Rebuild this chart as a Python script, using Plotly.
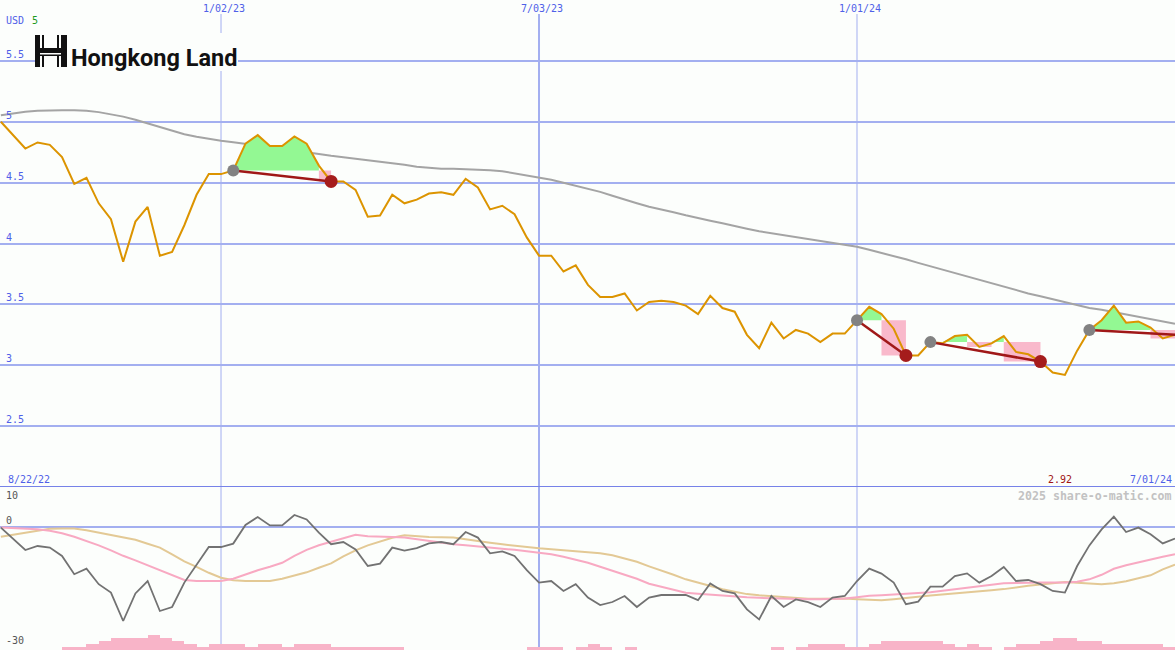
import plotly.graph_objects as go
import pandas as pd

W, H = 1175, 650
BG = "#fcfefc"

# ---------------- data ----------------
start_date = "2022-08-29"
n_weeks = 97
dates = list(pd.date_range(start_date, periods=n_weeks, freq="7D"))

price = [5.00, 4.89, 4.78, 4.83, 4.81, 4.71, 4.49, 4.54, 4.33, 4.20,
         3.85, 4.18, 4.30, 3.90, 3.93, 4.15, 4.40, 4.57, 4.57, 4.60,
         4.82, 4.89, 4.80, 4.80, 4.88, 4.82, 4.64, 4.51, 4.51, 4.44,
         4.22, 4.23, 4.40, 4.33, 4.36, 4.41, 4.42, 4.40, 4.53, 4.46,
         4.28, 4.31, 4.24, 4.05, 3.90, 3.90, 3.77, 3.82, 3.66, 3.56,
         3.56, 3.59, 3.45, 3.52, 3.53, 3.52, 3.49, 3.42, 3.57, 3.47,
         3.44, 3.25, 3.14, 3.35, 3.22, 3.29, 3.26, 3.19, 3.26, 3.26,
         3.37, 3.48, 3.42, 3.30, 3.08, 3.08, 3.19, 3.18, 3.24, 3.25,
         3.15, 3.18, 3.24, 3.11, 3.09, 3.03, 2.94, 2.92, 3.12, 3.29,
         3.37, 3.49, 3.35, 3.36, 3.31, 3.22, 3.25]

moving_avg = [5.054, 5.071, 5.083, 5.091, 5.095, 5.095, 5.095, 5.091, 5.079, 5.062,
              5.042, 5.017, 4.988, 4.960, 4.927, 4.898, 4.877, 4.857, 4.843, 4.832,
              4.820, 4.808, 4.795, 4.783, 4.766, 4.750, 4.734, 4.721, 4.709, 4.697,
              4.684, 4.672, 4.664, 4.647, 4.631, 4.622, 4.614, 4.613, 4.610, 4.610,
              4.602, 4.594, 4.577, 4.561, 4.547, 4.524, 4.499, 4.474, 4.450, 4.424,
              4.392, 4.359, 4.331, 4.302, 4.281, 4.257, 4.232, 4.207, 4.187, 4.166,
              4.141, 4.121, 4.100, 4.084, 4.067, 4.051, 4.035, 4.022, 4.006, 3.989,
              3.973, 3.948, 3.924, 3.895, 3.870, 3.841, 3.813, 3.784, 3.755, 3.726,
              3.697, 3.669, 3.644, 3.615, 3.590, 3.566, 3.541, 3.516, 3.492, 3.471,
              3.455, 3.437, 3.418, 3.397, 3.377, 3.360, 3.341]

osc_main = [-0.15, -2.9, -5.75, -4.75, -5.15, -7.25, -11.8, -10.4, -14.3, -16.4,
            -23.5, -16.6, -13.5, -21.0, -20.0, -13.9, -9.3, -5.0, -5.0, -4.15,
            0.5, 2.5, 0.4, 0.4, 3.0, 1.9, -1.4, -4.3, -3.75, -5.6,
            -9.75, -9.15, -5.15, -5.9, -5.3, -4.1, -3.75, -4.3, -1.25, -2.65,
            -6.6, -6.1, -7.25, -10.8, -13.9, -13.5, -16.0, -14.3, -17.65, -19.5,
            -18.75, -17.25, -20.0, -17.65, -17.0, -17.0, -17.0, -18.3, -14.1, -16.0,
            -16.6, -20.6, -23.1, -17.25, -20.0, -18.1, -18.8, -20.0, -17.65, -17.25,
            -13.5, -10.4, -11.65, -13.9, -19.3, -18.65, -14.9, -14.9, -12.25, -11.6,
            -13.9, -12.25, -10.0, -13.5, -13.25, -14.3, -16.0, -16.4, -9.75, -4.6,
            -0.6, 2.6, -1.25, -0.15, -1.8, -4.1, -2.9]

osc_pink = [-0.15, -0.33, -0.45, -0.58, -0.95, -1.58, -2.45, -3.45, -4.58, -5.83,
            -7.2, -8.33, -9.58, -10.7, -11.95, -13.25, -13.5, -13.5, -13.5, -12.95,
            -11.83, -10.83, -9.95, -8.95, -7.2, -5.7, -4.58, -3.7, -2.7, -1.95,
            -2.33, -2.5, -2.5, -2.65, -3.08, -3.58, -3.95, -4.33, -4.58, -4.83,
            -5.08, -5.33, -5.7, -6.08, -6.45, -6.83, -7.45, -8.2, -8.95, -9.95,
            -10.95, -11.83, -12.95, -14.2, -14.95, -15.83, -16.45, -16.7, -16.95, -17.2,
            -17.45, -17.58, -17.7, -17.83, -17.95, -18.08, -18.08, -18.08, -17.95, -17.9,
            -17.58, -17.2, -17.08, -16.88, -16.78, -16.58, -16.33, -15.95, -15.58, -15.15,
            -14.83, -14.33, -14.08, -14.0, -13.9, -13.9, -13.9, -13.9, -13.7, -13.08,
            -11.95, -10.45, -9.58, -8.83, -8.08, -7.45, -6.83]

osc_tan = [-2.45, -1.95, -1.33, -0.83, -0.45, -0.4, -0.4, -0.83, -1.4, -1.95,
           -2.58, -3.2, -4.2, -5.15, -6.83, -8.58, -9.95, -11.45, -12.7, -13.33,
           -13.5, -13.5, -13.5, -12.95, -12.2, -11.33, -10.2, -9.08, -7.33, -5.83,
           -4.58, -3.58, -2.7, -2.08, -2.33, -2.5, -2.58, -2.65, -3.08, -3.58,
           -3.95, -4.33, -4.7, -5.08, -5.33, -5.58, -5.83, -6.08, -6.33, -6.58,
           -7.08, -7.95, -8.7, -9.83, -10.83, -11.95, -13.08, -13.95, -14.83, -15.58,
           -16.2, -16.78, -17.08, -17.33, -17.58, -17.83, -17.95, -17.95, -17.9, -17.9,
           -18.08, -18.2, -18.33, -18.08, -17.7, -17.45, -17.13, -16.9, -16.65, -16.4,
           -16.15, -15.83, -15.53, -15.08, -14.7, -14.4, -14.08, -13.78, -13.95, -14.2,
           -14.33, -14.08, -13.58, -12.83, -12.08, -10.58, -9.4]

vol_level = [0, 0, 0, 0, 0, 1, 1, 2, 3, 4,
             4, 4, 5, 4, 3, 2, 1, 2, 2, 2,
             1, 2, 2, 1, 2, 2, 2, 1, 1, 1,
             1, 1, 1, 0, 0, 0, 0, 0, 0, 0,
             0, 0, 0, 1, 1, 1, 0, 1, 2, 1,
             0, 1, 0, 0, 0, 0, 0, 0, 0, 0,
             0, 0, 0, 1, 0, 1, 2, 2, 2, 1,
             1, 2, 3, 3, 3, 3, 3, 2, 1, 2,
             1, 0, 1, 2, 2, 3, 4, 4, 3, 3,
             2, 2, 2, 2, 2, 1, 1]

# signals (0-based week index)
signal_start = [19, 70, 76, 89]
signal_end = [27, 74, 85, 96]
signal_closed = [True, True, True, False]

grid_dates = ["2023-01-02", "2023-07-03", "2024-01-01"]
grid_labels = ["1/02/23", "7/03/23", "1/01/24"]
grid_widths = [1, 2, 1]
upper_ticks = [2.5, 3, 3.5, 4, 4.5, 5, 5.5]
upper_tick_labels = ["2.5", "3", "3.5", "4", "4.5", "5", "5.5"]
lower_ticks = [0]
range_start_label = "8/22/22"
range_end_label = "7/01/24"
currency = "USD"
currency_count = "5"

# ---------------- styles ----------------
BLUE_TXT = "#4f60e8"
GRID = "#a3aff0"
MONO = "DejaVu Sans Mono"
LOWER_FRAC = 163 / H


def px(x):
    return x / W


def py(y):
    return 1 - y / H


fig = go.Figure()

# grey long moving average
fig.add_trace(go.Scatter(x=dates, y=moving_avg, mode="lines",
                         line=dict(color="#a4a4a4", width=2), hoverinfo="skip"))

# green / pink signal fills
tol = 0.015
gx, gy, rx, ry = [], [], [], []
for s, e in zip(signal_start, signal_end):
    L = price[s]
    run = []
    for i in range(s, e + 1):
        if i < e:
            p0, p1 = price[i], price[i + 1]
            if p0 >= L - tol and p1 >= L - tol:
                gx += [dates[i], dates[i], dates[i + 1], dates[i + 1], dates[i], None]
                gy += [L, max(p0, L), max(p1, L), L, L, None]
            below = min(p0, p1) < L - tol
        else:
            below = False
        if below:
            run.append(i)
        elif run:
            a, b = run[0], run[-1] + 1
            m = min(price[a:b + 1])
            rx += [dates[a], dates[a], dates[b], dates[b], dates[a], None]
            ry += [L, m, m, L, L, None]
            run = []

fig.add_trace(go.Scatter(x=rx, y=ry, mode="lines", fill="toself",
                         fillcolor="#f9b9cb", line=dict(width=0), hoverinfo="skip"))
fig.add_trace(go.Scatter(x=gx, y=gy, mode="lines", fill="toself",
                         fillcolor="#93f893", line=dict(width=0), hoverinfo="skip"))

# price line
fig.add_trace(go.Scatter(x=dates, y=price, mode="lines",
                         line=dict(color="#dc9400", width=2), hoverinfo="skip"))

# signal connection lines
for s, e in zip(signal_start, signal_end):
    fig.add_trace(go.Scatter(x=[dates[s], dates[e]], y=[price[s], price[e]],
                             mode="lines", line=dict(color="#a01818", width=2.5),
                             hoverinfo="skip"))

# start / end markers
fig.add_trace(go.Scatter(x=[dates[s] for s in signal_start],
                         y=[price[s] for s in signal_start], mode="markers",
                         marker=dict(color="#828282", size=12, line=dict(width=0)),
                         hoverinfo="skip"))
ends = [e for e, c in zip(signal_end, signal_closed) if c]
fig.add_trace(go.Scatter(x=[dates[e] for e in ends], y=[price[e] for e in ends],
                         mode="markers",
                         marker=dict(color="#a51c1c", size=13, line=dict(width=0)),
                         hoverinfo="skip"))

# lower panel
fig.add_trace(go.Bar(x=dates, y=vol_level, yaxis="y3", offset=0,
                     width=7 * 86400000, marker=dict(color="#f8b4c8", line=dict(width=0)),
                     hoverinfo="skip"))
fig.add_trace(go.Scatter(x=dates, y=osc_tan, yaxis="y2", mode="lines",
                         line=dict(color="#e3c995", width=2), hoverinfo="skip"))
fig.add_trace(go.Scatter(x=dates, y=osc_pink, yaxis="y2", mode="lines",
                         line=dict(color="#f8a9c2", width=2), hoverinfo="skip"))
fig.add_trace(go.Scatter(x=dates, y=osc_main, yaxis="y2", mode="lines",
                         line=dict(color="#727272", width=1.8), hoverinfo="skip"))

shapes = []
for d, w in zip(grid_dates, grid_widths):
    shapes.append(dict(type="line", xref="x", yref="paper", x0=d, x1=d,
                       y0=0, y1=py(14), line=dict(color=GRID, width=w), layer="below"))
# divider between panels
shapes.append(dict(type="line", xref="paper", yref="y", x0=0, x1=1, y0=2.0, y1=2.0,
                   line=dict(color="#7682e8", width=2), layer="below"))
# logo backdrop and emblem
shapes.append(dict(type="rect", xref="paper", yref="paper", x0=px(35), x1=px(238),
                   y0=py(71), y1=py(33), fillcolor=BG, line=dict(width=0), layer="above"))
emblem = [(35, 40, 35, 67), (42, 44, 35, 48), (42, 44, 55, 67),
          (57, 59, 35, 48), (57, 59, 55, 67), (61, 67, 35, 67),
          (35, 67, 48, 53), (35, 67, 54.5, 56)]
for x0, x1, y0, y1 in emblem:
    shapes.append(dict(type="rect", xref="paper", yref="paper", x0=px(x0), x1=px(x1),
                       y0=py(y1), y1=py(y0), fillcolor="#111111", line=dict(width=0),
                       layer="above"))

ann = []


def txt(text, x, y, color, xanchor="left", yanchor="middle", size=10, xref="paper",
        yref="paper", family=MONO, weight=None, xshift=0, yshift=0):
    f = dict(family=family, size=size, color=color)
    if weight:
        f["weight"] = weight
    ann.append(dict(text=text, x=x, y=y, xref=xref, yref=yref, xanchor=xanchor,
                    yanchor=yanchor, showarrow=False, font=f, xshift=xshift,
                    yshift=yshift, borderpad=0))


txt(currency, px(5), py(20), BLUE_TXT)
txt(currency_count, px(31), py(20), "#1c9a1c")
for d, lab in zip(grid_dates, grid_labels):
    txt(lab, d, py(8), BLUE_TXT, xanchor="center", xref="x", xshift=3)
for v, lab in zip(upper_ticks, upper_tick_labels):
    txt(lab, px(5), v, BLUE_TXT, yref="y", yanchor="bottom", yshift=0)
txt("10", px(5), 10, "#555555", yref="y2", yanchor="top", yshift=-2)
txt("0", px(5), 0, "#555555", yref="y2", yanchor="bottom")
txt("-30", px(5), -30, "#555555", yref="y2", yanchor="bottom")
txt(range_start_label, px(7), 2.0, BLUE_TXT, yref="y", yanchor="bottom", yshift=1)
txt(range_end_label, px(1173), 2.0, BLUE_TXT, xanchor="right", yref="y",
    yanchor="bottom", yshift=1)
imin = price.index(min(price))
txt(f"{min(price):.2f}", dates[imin], 2.0, "#a01414", xanchor="center", xref="x",
    yref="y", yanchor="bottom", yshift=1, xshift=-5)
txt("2025 share-o-matic.com", px(1173), py(496), "#c2c2c2", xanchor="right",
    size=11.6, weight=700)
txt("Hongkong Land", px(70), py(58), "#111111", family="Roboto", size=23.5, weight=700)

fig.update_layout(
    width=W, height=H, margin=dict(l=0, r=0, t=0, b=0),
    paper_bgcolor=BG, plot_bgcolor=BG, showlegend=False, bargap=0,
    xaxis=dict(type="date", range=["2022-08-28 12:00", "2024-07-01"], visible=False,
               fixedrange=True),
    yaxis=dict(domain=[LOWER_FRAC, 1], range=[2.0, 6.0], tickvals=upper_ticks,
               showticklabels=False, showgrid=True, gridcolor=GRID, gridwidth=2,
               zeroline=False, ticks="", showline=False),
    yaxis2=dict(domain=[0, LOWER_FRAC], range=[-30.75, 10], tickvals=lower_ticks,
                showticklabels=False, showgrid=True, gridcolor=GRID, gridwidth=2,
                zeroline=False, ticks="", showline=False, anchor="x"),
    yaxis3=dict(overlaying="y2", range=[0, 163 / 3], visible=False, anchor="x"),
    shapes=shapes, annotations=ann,
)

fig.write_html("out.html", config={"displayModeBar": False},
               post_script="document.body.style.margin='0';"
                           "document.body.style.overflow='hidden';"
                           "document.body.style.background='" + BG + "';")
